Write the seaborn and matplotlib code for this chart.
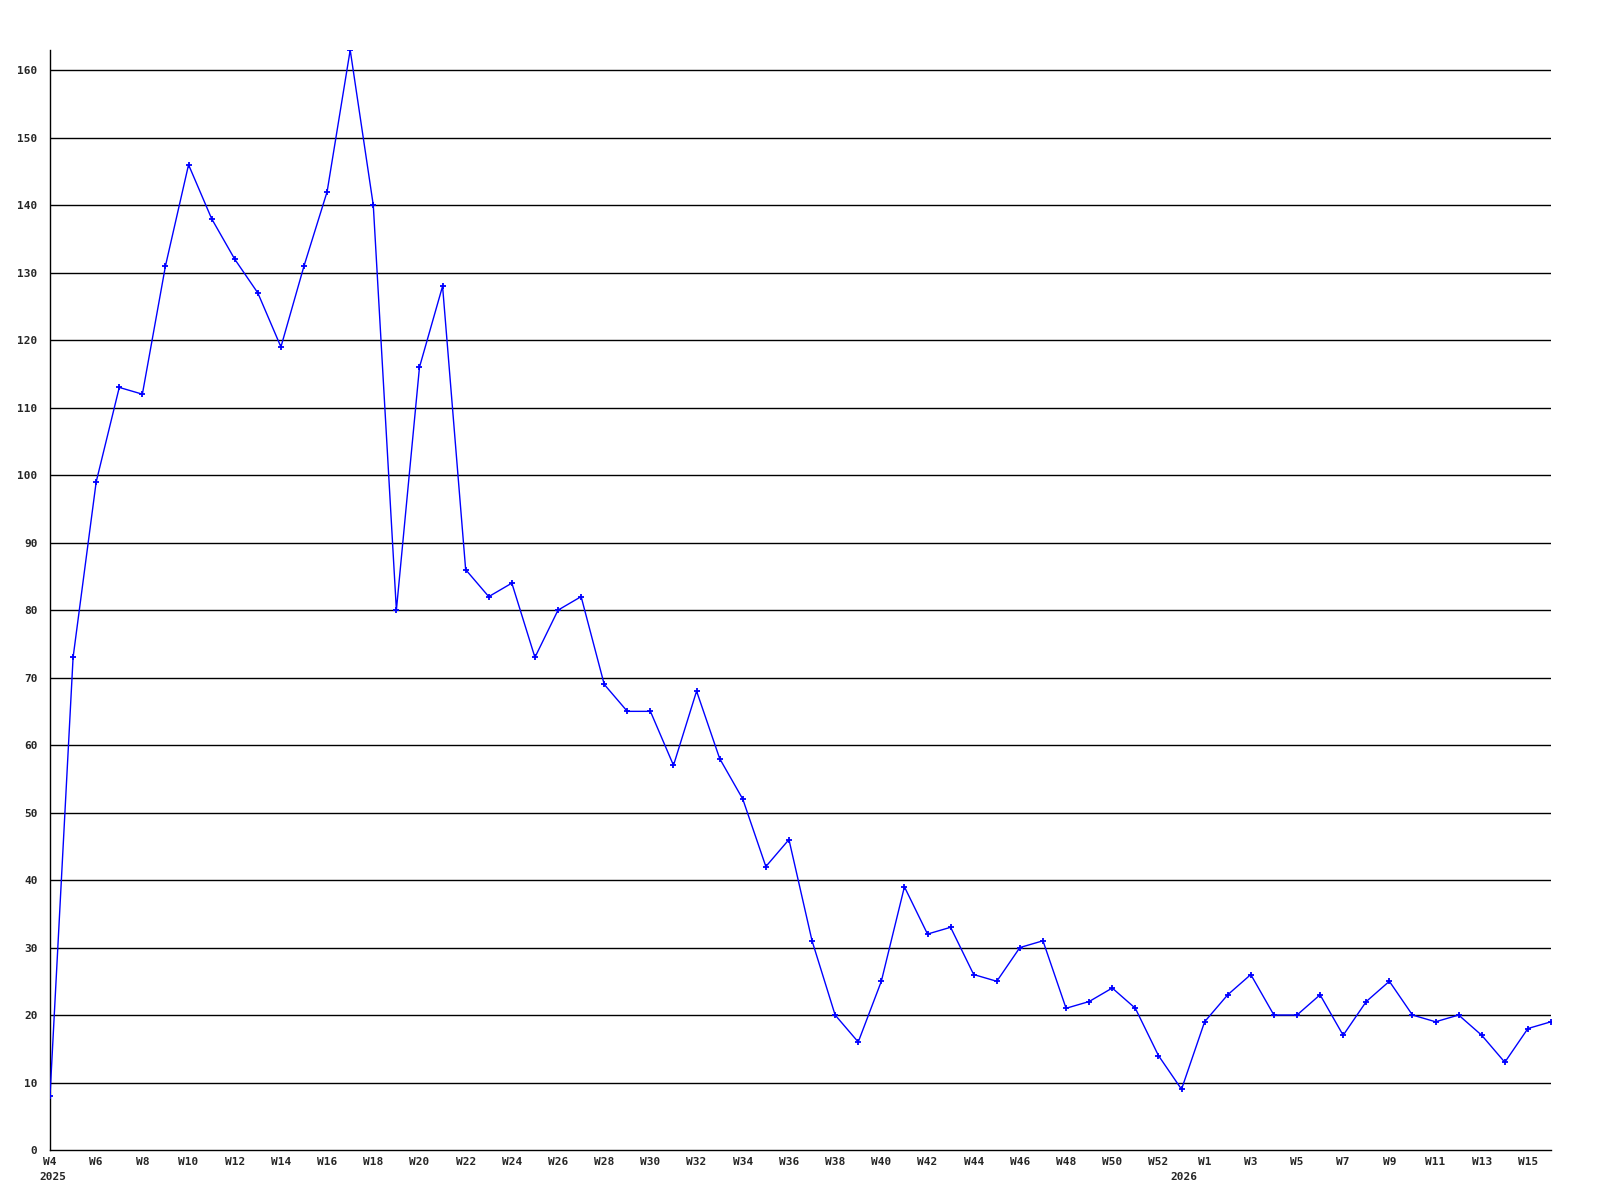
import matplotlib
matplotlib.use("Agg")
import matplotlib.pyplot as plt
import seaborn as sns
import pandas as pd

weeks = ["W4", "W5", "W6", "W7", "W8", "W9", "W10", "W11", "W12", "W13", "W14", "W15",
         "W16", "W17", "W18", "W19", "W20", "W21", "W22", "W23", "W24", "W25", "W26",
         "W27", "W28", "W29", "W30", "W31", "W32", "W33", "W34", "W35", "W36", "W37",
         "W38", "W39", "W40", "W41", "W42", "W43", "W44", "W45", "W46", "W47", "W48",
         "W49", "W50", "W51", "W52", "W53",
         "W1", "W2", "W3", "W4", "W5", "W6", "W7", "W8", "W9", "W10", "W11", "W12",
         "W13", "W14", "W15", "W16"]
values = [8, 73, 99, 113, 112, 131, 146, 138, 132, 127, 119, 131,
          142, 163, 140, 80, 116, 128, 86, 82, 84, 73, 80,
          82, 69, 65, 65, 57, 68, 58, 52, 42, 46, 31,
          20, 16, 25, 39, 32, 33, 26, 25, 30, 31, 21,
          22, 24, 21, 14, 9,
          19, 23, 26, 20, 20, 23, 17, 22, 25, 20, 19, 20,
          17, 13, 18, 19]
tick_idx = [0, 2, 4, 6, 8, 10, 12, 14, 16, 18, 20, 22, 24, 26, 28, 30, 32, 34, 36,
            38, 40, 42, 44, 46, 48, 50, 52, 54, 56, 58, 60, 62, 64]
year_labels = ["2025", "2026"]
year_idx = [0, 49]
y_ticks = list(range(0, 170, 10))

df = pd.DataFrame({"pos": range(len(values)), "value": values})

sns.set_style("white")
plt.rcParams["font.family"] = ["DejaVu Sans Mono", "DejaVu Sans"]

fig = plt.figure(figsize=(16, 12), dpi=100)
ax = fig.add_axes([50 / 1600, 50 / 1200, 1501 / 1600, 1100 / 1200])

for y in y_ticks[1:]:
    ax.axhline(y, color="black", linewidth=1.0, zorder=1)

sns.lineplot(data=df, x="pos", y="value", ax=ax, color="#0000ff", linewidth=1.0,
             marker="+", markersize=5, markeredgewidth=1.3, markeredgecolor="#0000ff",
             zorder=3)

ax.set_xlim(0, len(values) - 1)
ax.set_ylim(0, max(values))
ax.set_yticks(y_ticks)
ax.set_yticklabels([str(v) for v in y_ticks], fontsize=8, fontweight="bold")
ax.set_xticks(tick_idx)
ax.set_xticklabels([weeks[i] for i in tick_idx], fontsize=8, fontweight="bold")
ax.tick_params(axis="both", length=0)
ax.tick_params(axis="y", pad=9)
ax.tick_params(axis="x", pad=5)
ax.set_xlabel("")
ax.set_ylabel("")

for s in ["top", "right"]:
    ax.spines[s].set_visible(False)
for s in ["left", "bottom"]:
    ax.spines[s].set_color("black")
    ax.spines[s].set_linewidth(1.0)

for lbl, i in zip(year_labels, year_idx):
    ax.annotate(lbl, xy=(i, 0), xycoords="data", xytext=(2, -16),
                textcoords="offset points", ha="center", va="top",
                fontsize=8, fontweight="bold", annotation_clip=False)

fig.savefig("out.png", dpi=100, facecolor="white")
